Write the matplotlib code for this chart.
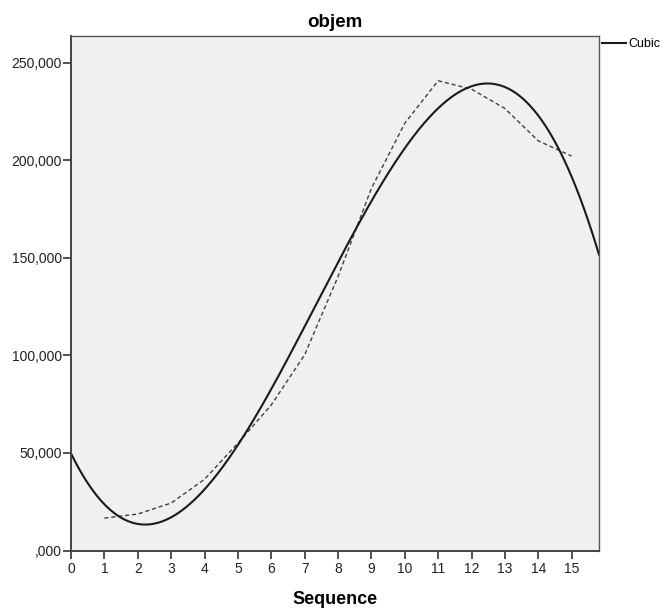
import numpy as np
import matplotlib
matplotlib.use("Agg")
import matplotlib.pyplot as plt

plt.rcParams['font.family'] = ['Liberation Sans', 'DejaVu Sans']

# Data
sequence = [1, 2, 3, 4, 5, 6, 7, 8, 9, 10, 11, 12, 13, 14, 15]
objem = [16600, 18700, 24300, 36500, 55000, 74600, 100300, 140400, 185600,
         219000, 240800, 236500, 226600, 210000, 202200]
y_ticks = [0, 50000, 100000, 150000, 200000, 250000]
y_tick_labels = [",000", "50,000", "100,000", "150,000", "200,000", "250,000"]
x_ticks = list(range(0, 16))

title = "objem"
x_label = "Sequence"
legend_label = "Cubic"

# Cubic fit of the observed series
coef = np.polyfit(sequence, objem, 3)
x_max = 15.82
xs = np.linspace(0, x_max, 400)
ys = np.polyval(coef, xs)

W, H = 665, 608
fig = plt.figure(figsize=(W / 100, H / 100), dpi=100)
left, right, top, bottom = 71 / W, 599 / W, 1 - 35.5 / H, 1 - 550.5 / H
ax = fig.add_axes([left, bottom, right - left, top - bottom])
ax.set_facecolor('#f0f0f0')

ax.plot(sequence, objem, linestyle=(0, (3, 2)), color='#404040', linewidth=1.0)
line, = ax.plot(xs, ys, color='#1a1a1a', linewidth=1.5, label=legend_label)

ax.set_xlim(0, x_max)
ax.set_ylim(0, 264000)
ax.set_xticks(x_ticks)
ax.set_xticklabels([str(t) for t in x_ticks], fontsize=10, color='#222222')
ax.set_yticks(y_ticks)
ax.set_yticklabels(y_tick_labels, fontsize=10, color='#222222')
ax.tick_params(axis='x', direction='out', length=5.5, width=1.2, color='#333333', pad=3)
ax.tick_params(axis='y', direction='out', length=6, width=1.2, color='#333333', pad=0.5)

for side in ['left', 'bottom']:
    ax.spines[side].set_color('#444444')
    ax.spines[side].set_linewidth(1.4)
for side in ['top', 'right']:
    ax.spines[side].set_color('#555555')
    ax.spines[side].set_linewidth(1.0)

ax.set_title(title, fontsize=13.5, fontweight='bold', pad=6)
ax.set_xlabel(x_label, fontsize=13, fontweight='bold')
ax.xaxis.label.set_verticalalignment('center')
ax.xaxis.set_label_coords(0.5, ((1 - 599 / H) - bottom) / (top - bottom))

fig.legend(handles=[line], loc='center left',
           bbox_to_anchor=(602 / W, 1 - 44 / H), bbox_transform=fig.transFigure,
           frameon=False, fontsize=9, handlelength=1.9, handletextpad=0.2,
           borderaxespad=0, borderpad=0)

fig.savefig('out.png', dpi=100)
